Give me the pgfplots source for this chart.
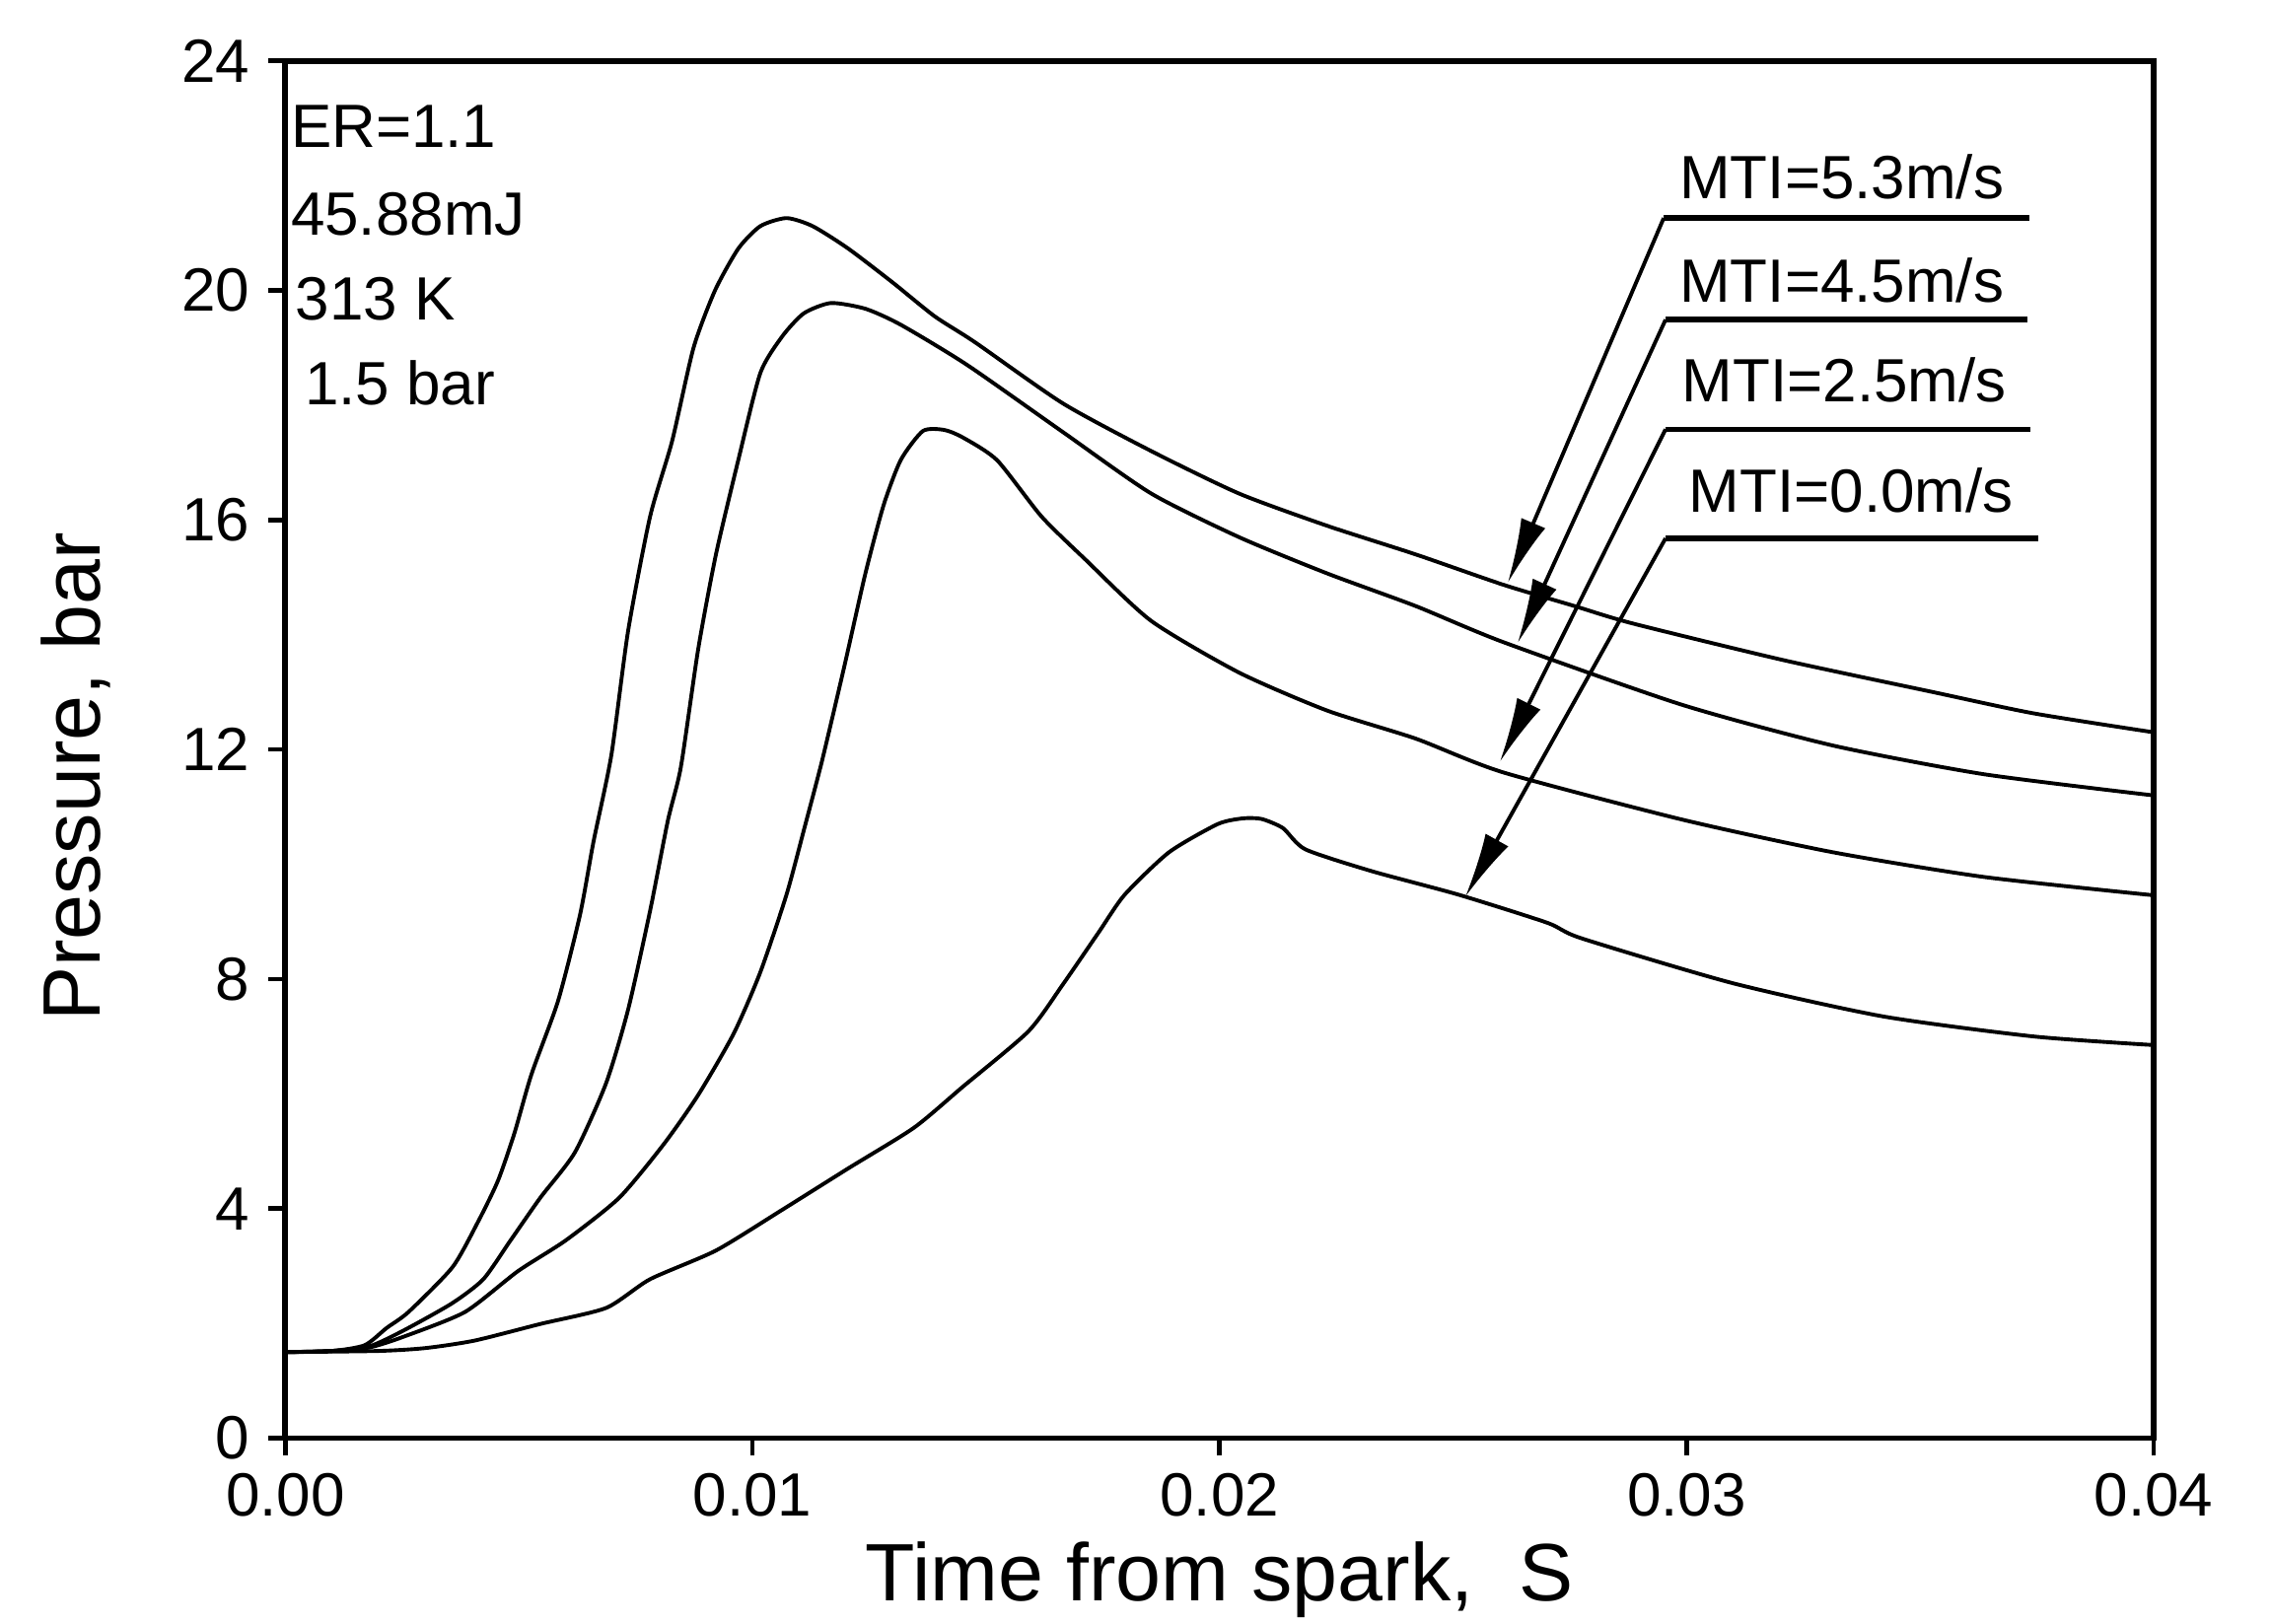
\documentclass[border=0pt]{standalone}
\usepackage{pgfplots}
\pgfplotsset{compat=1.18}
\usepackage{fontspec}
\setmainfont{Liberation Sans}
\usetikzlibrary{arrows.meta}
\begin{document}
\begin{tikzpicture}
\begin{axis}[
  width=12.9cm, height=9.51cm, scale only axis,
  xmin=0, xmax=0.04, ymin=0, ymax=24,
  xtick={0,0.01,0.02,0.03,0.04},
  xticklabels={0.00,0.01,0.02,0.03,0.04},
  ytick={0,4,8,12,16,20,24},
  scaled x ticks=false,
  tick pos=left, tick align=outside, major tick length=1.2mm,
  axis line style={line width=1.1pt},
  every tick/.style={black, line width=0.9pt},
  tick label style={font=\fontsize{12}{14}\selectfont},
  /pgf/number format/assume math mode=true,
  xlabel={Time from spark,\ \ S},
  ylabel={Pressure, bar},
  label style={font=\fontsize{16}{19}\selectfont, inner sep=0pt},
  xlabel style={at={(axis description cs:0.5,-0.118)}, anchor=base},
  ylabel style={at={(axis description cs:-0.112,0.48)}, anchor=center},
  clip=false,
  cycle list={{black, no markers, line width=0.75pt}},
]
% MTI = 5.3 m/s
\addplot[black, no markers, line width=0.75pt, smooth, tension=0.4] coordinates {
(0,1.5) (0.001,1.52) (0.0017,1.62) (0.00217,1.92) (0.00264,2.2) (0.00358,2.98)
(0.00412,3.76) (0.00455,4.48) (0.0049,5.3) (0.00527,6.34) (0.00584,7.62)
(0.00631,9.12) (0.0066,10.4) (0.00698,11.9) (0.00734,14.07) (0.00781,16.06)
(0.00828,17.37) (0.00874,19.0) (0.0092,20.0) (0.0097,20.73) (0.01017,21.12)
(0.01073,21.26) (0.01129,21.12) (0.01205,20.73) (0.013,20.14) (0.0139,19.55)
(0.01476,19.1) (0.01665,18.03) (0.01854,17.2) (0.02042,16.46) (0.0223,15.9)
(0.0242,15.4) (0.02608,14.87) (0.0276,14.5) (0.02883,14.2) (0.03206,13.56)
(0.03528,13.0) (0.03743,12.63) (0.04,12.3)
};
% MTI = 4.5 m/s
\addplot[black, no markers, line width=0.75pt, smooth, tension=0.4] coordinates {
(0,1.5) (0.001,1.52) (0.0018,1.6) (0.00254,1.88) (0.00357,2.35) (0.00424,2.77)
(0.0048,3.42) (0.00546,4.19) (0.0062,4.98) (0.00687,6.19) (0.00734,7.47)
(0.00781,9.19) (0.00819,10.76) (0.00847,11.7) (0.00884,13.75) (0.00922,15.4)
(0.0097,17.05) (0.01017,18.56) (0.01064,19.2) (0.0111,19.6) (0.01168,19.78)
(0.01242,19.68) (0.01318,19.4) (0.0146,18.7) (0.01665,17.53) (0.01854,16.46)
(0.02042,15.7) (0.0223,15.07) (0.0242,14.5) (0.02608,13.87) (0.0299,12.78)
(0.03313,12.07) (0.03636,11.57) (0.04,11.2)
};
% MTI = 2.5 m/s
\addplot[black, no markers, line width=0.75pt, smooth, tension=0.4] coordinates {
(0,1.5) (0.001,1.52) (0.0018,1.58) (0.00254,1.77) (0.00385,2.2) (0.00498,2.91)
(0.00601,3.45) (0.00715,4.19) (0.0081,5.12) (0.00884,5.98) (0.0096,7.05)
(0.01017,8.12) (0.01073,9.47) (0.01111,10.62) (0.01149,11.8) (0.01196,13.42)
(0.01242,15.07) (0.01281,16.26) (0.01318,17.05) (0.01365,17.55) (0.0141,17.57)
(0.0145,17.44) (0.01524,17.04) (0.01619,16.06) (0.01713,15.31) (0.01854,14.24)
(0.02042,13.34) (0.0223,12.68) (0.0242,12.19) (0.02608,11.6) (0.0299,10.78)
(0.03313,10.21) (0.03636,9.78) (0.04,9.46)
};
% MTI = 0.0 m/s
\addplot[black, no markers, line width=0.75pt, smooth, tension=0.4] coordinates {
(0,1.5) (0.002,1.52) (0.003,1.57) (0.00405,1.7) (0.00546,1.99) (0.00687,2.27)
(0.00781,2.77) (0.00922,3.27) (0.01064,3.98) (0.01205,4.7) (0.01346,5.41)
(0.0145,6.12) (0.01591,7.09) (0.01665,7.91) (0.01741,8.81) (0.01797,9.47)
(0.01892,10.21) (0.01996,10.7) (0.0205,10.8) (0.0209,10.79) (0.02136,10.63)
(0.02184,10.26) (0.02326,9.88) (0.02512,9.47) (0.02702,8.98) (0.02775,8.71)
(0.03098,7.93) (0.0342,7.35) (0.03743,7.0) (0.04,6.85)
};
% condition annotations
\begin{scope}[every node/.style={inner sep=0pt, anchor=base west, font=\fontsize{12}{14}\selectfont}]
\node at (axis cs:0.0001,22.5) {ER=1.1};
\node at (axis cs:0.0001,20.96) {45.88mJ};
\node at (axis cs:0.0002,19.48) {313 K};
\node at (axis cs:0.0004,18.0) {1.5 bar};
\node at (axis cs:0.02983,21.59) {MTI=5.3m/s};
\node at (axis cs:0.02983,19.8) {MTI=4.5m/s};
\node at (axis cs:0.02988,18.06) {MTI=2.5m/s};
\node at (axis cs:0.03003,16.14) {MTI=0.0m/s};
\end{scope}
% leader lines
\draw[line width=1.1pt] (axis cs:0.02951,21.26) -- (axis cs:0.03733,21.26);
\draw[line width=1.1pt] (axis cs:0.02955,19.49) -- (axis cs:0.0373,19.49);
\draw[line width=1.1pt] (axis cs:0.02955,17.58) -- (axis cs:0.03736,17.58);
\draw[line width=1.1pt] (axis cs:0.02955,15.68) -- (axis cs:0.03752,15.68);
\draw[line width=0.75pt, -{Latex[length=4.5mm,width=1.8mm]}] (axis cs:0.02951,21.26) -- (axis cs:0.02617,14.9);
\draw[line width=0.75pt, -{Latex[length=4.5mm,width=1.8mm]}] (axis cs:0.02955,19.49) -- (axis cs:0.02638,13.85);
\draw[line width=0.75pt, -{Latex[length=4.5mm,width=1.8mm]}] (axis cs:0.02955,17.58) -- (axis cs:0.026,11.78);
\draw[line width=0.75pt, -{Latex[length=4.5mm,width=1.8mm]}] (axis cs:0.02955,15.68) -- (axis cs:0.02526,9.43);
\coordinate (bbl) at (axis description cs:-0.1527,-0.1346);
\coordinate (btr) at (axis description cs:1.0628,1.0442);
\end{axis}
\path (bbl) rectangle (btr);
\end{tikzpicture}
\end{document}
